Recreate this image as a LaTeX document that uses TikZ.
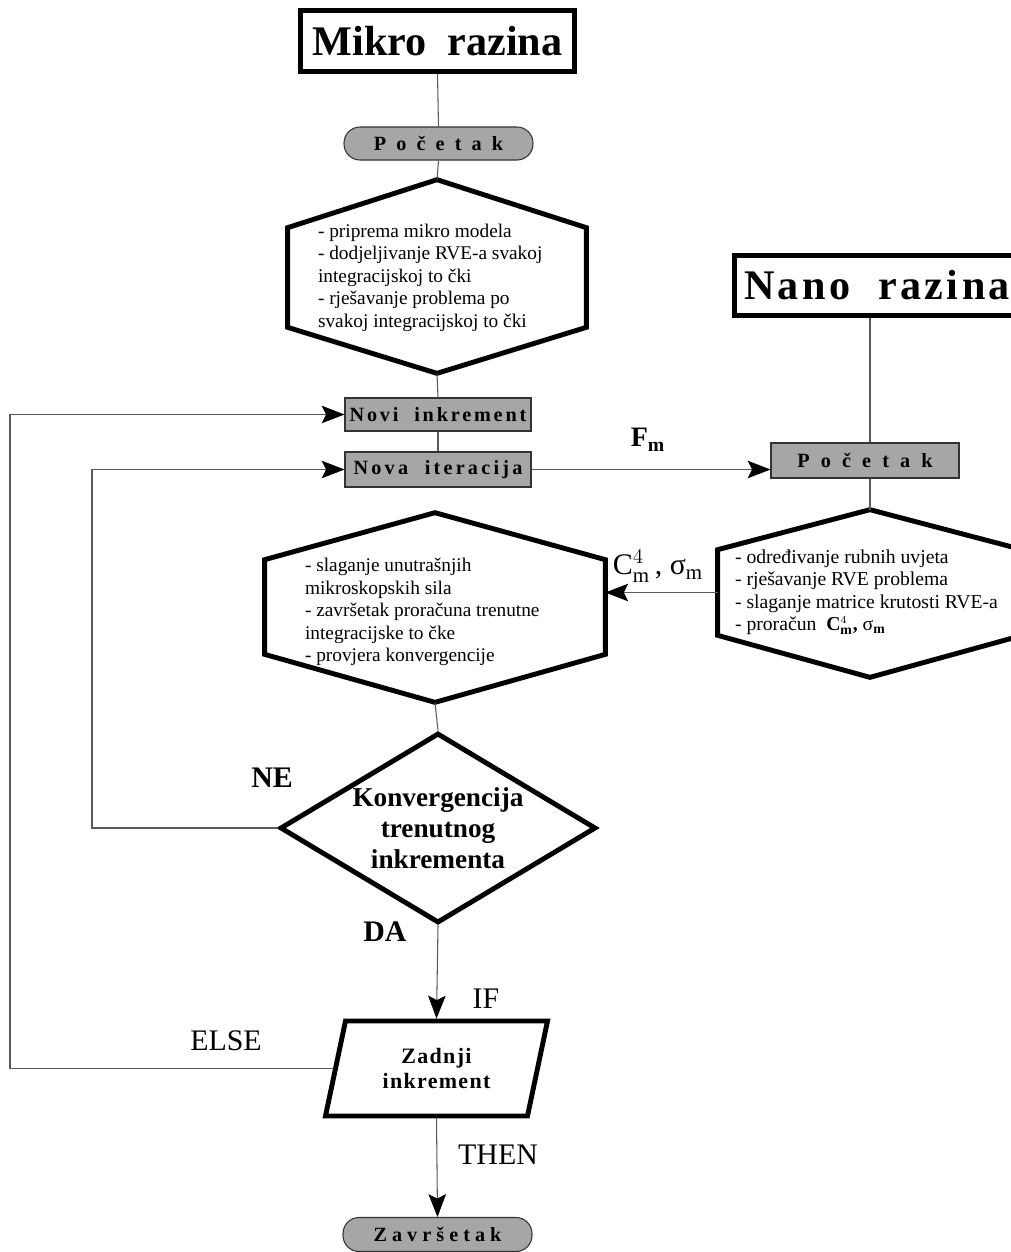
\documentclass[tikz,border=0pt]{standalone}
\usepackage{fontspec}
\setmainfont{Liberation Serif}
\setmathrm{Liberation Serif}
\usetikzlibrary{arrows.meta,shapes.geometric,positioning}

\definecolor{boxgray}{RGB}{166,166,166}

\tikzset{
  title/.style={draw, line width=2.8pt, fill=white, inner sep=0pt,
    font=\fontsize{24}{24}\selectfont\bfseries},
  graybox/.style={draw=black!80, line width=0.6pt, fill=boxgray, inner sep=0pt,
    font=\fontsize{11.5}{11.5}\selectfont\bfseries},
  startbox/.style={graybox, rounded corners=0.32cm},
  hexline/.style={line width=2.8pt},
  hexbody/.style={inner sep=0pt},
  hextext/.style={inner sep=0pt, anchor=west, align=left, font=\fontsize{11}{12.8}\selectfont},
  conn/.style={draw=black!65, line width=0.6pt},
  arr/.style={conn, -{Stealth[length=13pt, width=10pt, inset=2.5pt, color=black]}},
  lbl/.style={inner sep=0pt, font=\fontsize{17}{17}\selectfont},
  lblb/.style={inner sep=0pt, font=\fontsize{17}{17}\selectfont\bfseries}
}

\begin{document}
\begin{tikzpicture}[x=0.02cm,y=-0.02cm]
\useasboundingbox (0,0) rectangle (1011,1252);
\clip (0,0) rectangle (1011,1252);

% mikro razina
\node[title, minimum width=5.48cm, minimum height=1.22cm] (mikroT) at (437.5,41) {Mikro\ \ razina};
\node[startbox, minimum width=3.78cm, minimum height=0.66cm] (pocA) at (438.5,143.5) {\addfontfeature{LetterSpace=50}Početak};
\node[hexbody, minimum width=5.96cm, minimum height=1.98cm] (h1) at (437,277.5) {};
\coordinate (h1t) at ([yshift=0.96cm]h1.north);
\coordinate (h1b) at ([yshift=-0.92cm]h1.south);
\draw[hexline] (h1.north west) -- (h1t) -- (h1.north east) -- (h1.south east) -- (h1b) -- (h1.south west) -- cycle;
\node[hextext] (h1T) at ([xshift=0.6cm]h1.west)
  {- priprema mikro modela\\- dodjeljivanje RVE-a svakoj\\integracijskoj to čki\\- rješavanje problema po\\svakoj integracijskoj to čki};
\node[graybox, minimum width=3.72cm, minimum height=0.66cm] (novi) at (438,414.5) {\addfontfeature{LetterSpace=14}Novi\ \ inkrement};
\node[graybox, minimum width=3.72cm, minimum height=0.70cm] (nova) at (438,469.5) {\addfontfeature{LetterSpace=16}Nova\ \ iteracija};

% nano razina
\node[title, text width=7.6cm, align=left, inner xsep=0.2cm, minimum height=1.20cm] (nanoT) at (934,285.5)
  {\addfontfeature{LetterSpace=8}Nano\ \ razina};
\node[graybox, minimum width=3.76cm, minimum height=0.70cm] (nanoP) at (865,460.5) {\addfontfeature{LetterSpace=55}Početak};
\node[hexbody, minimum width=6.08cm, minimum height=1.70cm] (h3) at (870,592.5) {};
\coordinate (h3t) at ([yshift=0.80cm]h3.north);
\coordinate (h3b) at ([yshift=-0.84cm]h3.south);
\draw[hexline] (h3.north west) -- (h3t) -- (h3.north east) -- (h3.south east) -- (h3b) -- (h3.south west) -- cycle;
\node[hextext, font=\fontsize{11.2}{12.6}\selectfont] (h3T) at ([xshift=0.34cm]h3.west)
  {- određivanje rubnih uvjeta\\- rješavanje RVE problema\\- slaganje matrice krutosti RVE-a\\- proračun\ \ \textbf{C}$^{\scriptscriptstyle 4}_{\mathbf{m}}$\textbf{,} σ$_{\mathbf{m}}$};

% mikro, nastavak
\node[hexbody, minimum width=6.80cm, minimum height=1.88cm] (h2) at (435,607) {};
\coordinate (h2t) at ([yshift=0.94cm]h2.north);
\coordinate (h2b) at ([yshift=-0.96cm]h2.south);
\draw[hexline] (h2.north west) -- (h2t) -- (h2.north east) -- (h2.south east) -- (h2b) -- (h2.south west) -- cycle;
\node[hextext] (h2T) at ([xshift=0.8cm, yshift=-0.1cm]h2.west)
  {- slaganje unutrašnjih\\mikroskopskih sila\\- završetak proračuna trenutne\\integracijske to čke\\- provjera konvergencije};

\node[diamond, draw, line width=2.8pt, inner sep=2pt, minimum width=6.32cm, minimum height=3.8cm] (dec) at (438,828) {};
\node[align=center, inner sep=0pt, font=\fontsize{15.5}{17.5}\selectfont\bfseries] (decT) at (dec) {Konvergencija\\trenutnog\\inkrementa};
\node[trapezium, trapezium left angle=75, trapezium right angle=105, trapezium stretches=true, draw, line width=2.8pt,
  inner sep=2pt, minimum width=4.46cm, minimum height=1.9cm, align=center, font=\fontsize{12.5}{14}\selectfont\bfseries]
  (last) at (436.5,1068.5) {\addfontfeature{LetterSpace=6}Zadnji\\\addfontfeature{LetterSpace=6}inkrement};
\node[startbox, minimum width=3.78cm, minimum height=0.68cm] (endP) at (437.5,1234.5) {\addfontfeature{LetterSpace=25}Završetak};

\coordinate (loopA) at (92,0);
\coordinate (loopB) at (10,0);

% veze
\draw[conn] (mikroT.south) -- (pocA.north);
\draw[conn] (pocA.south) -- (h1t);
\draw[conn] (h1b) -- (novi.north);
\draw[conn] (novi.south) -- (nova.north);
\draw[arr] (nova.east) -- (nova.east -| nanoP.west);
\draw[conn] (nanoT.south -| h3t) -- (nanoP.north -| h3t);
\draw[conn] (nanoP.south -| h3t) -- (h3t);
\draw[arr] (h3.west) -- (h3.west -| h2.east);
\draw[conn] (h2b) -- (dec.north);
\draw[arr] (dec.west) -- (dec.west -| loopA) |- (nova.west);
\draw[arr] (dec.south) -- (last.north);
\draw[arr] (last.west) -- (last.west -| loopB) |- (novi.west);
\draw[arr] (last.south) -- (endP.north);

% oznake
\node[inner sep=0pt, font=\fontsize{16}{16}\selectfont\bfseries] (fm) at (648,440) {F$_{\mathbf{m}}$};
\node[lbl] (cm) at (658,566) {C$^{4}_{\mathrm{m}}$\,, σ$_{\mathrm{m}}$};
\node[lblb] (ne) at (272,778) {NE};
\node[lblb] (da) at (385,932) {DA};
\node[lbl] (if) at (486,999) {IF};
\node[lbl] (else) at (226,1041) {ELSE};
\node[lbl] (then) at (498,1155) {THEN};
\end{tikzpicture}
\end{document}
